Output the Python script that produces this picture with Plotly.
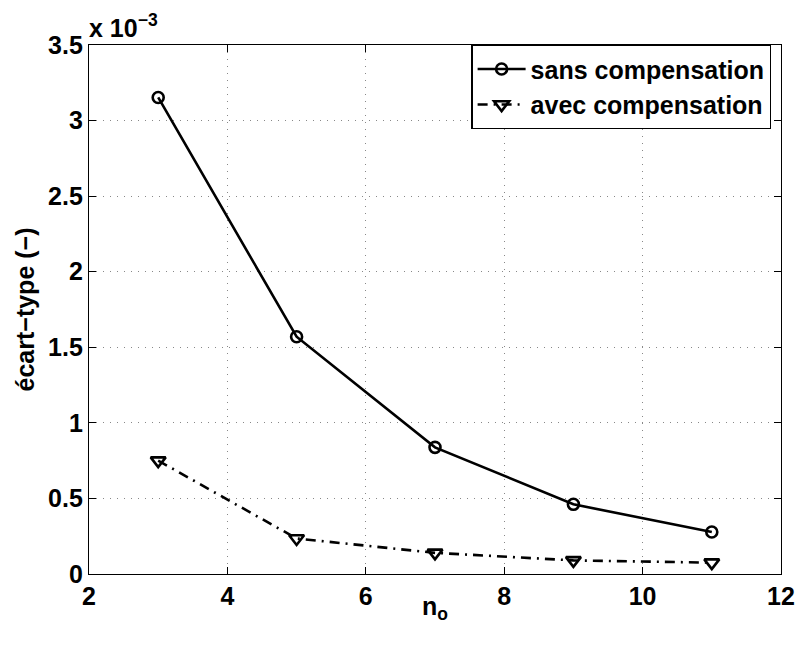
import plotly.graph_objects as go

n_o = [3, 5, 7, 9, 11]
sans_comp = [3.153, 1.570, 0.838, 0.461, 0.278]
avec_comp = [0.750, 0.235, 0.140, 0.090, 0.075]

x_ticks = [2, 4, 6, 8, 10, 12]
y_ticks = [0, 0.5, 1, 1.5, 2, 2.5, 3, 3.5]
y_ticktext = ["0", "0.5", "1", "1.5", "2", "2.5", "3", "3.5"]

FONT = "Liberation Sans, Arial, sans-serif"

fig = go.Figure()
fig.add_trace(go.Scatter(
    x=n_o, y=sans_comp, mode="lines+markers", name="sans compensation",
    line=dict(color="black", width=2.6),
    marker=dict(symbol="circle-open", size=11, color="black", line=dict(width=2.6)),
))
fig.add_trace(go.Scatter(
    x=n_o, y=avec_comp, mode="lines+markers", name="avec compensation",
    line=dict(color="black", width=2.6, dash="10px,6px,2px,6px"),
    marker=dict(symbol="triangle-down-open", size=13, color="black", line=dict(width=2.6)),
))

axis_common = dict(
    showline=True, linecolor="black", linewidth=1.3, mirror="ticks",
    ticks="inside", ticklen=7, tickwidth=1, tickcolor="black",
    showgrid=True, gridcolor="#888888", gridwidth=1, griddash="1px,6px",
    zeroline=False,
    tickfont=dict(family=FONT, size=25, color="black", weight="bold"),
)

fig.update_xaxes(range=[2, 12], tickvals=x_ticks, ticktext=[str(v) for v in x_ticks],
                 **axis_common)
fig.update_yaxes(range=[0, 3.5], tickvals=y_ticks, ticktext=y_ticktext,
                 title=dict(text="<b>écart−type (−)</b>", font=dict(family=FONT, size=25, color="black"),
                            standoff=6),
                 **axis_common)

fig.add_annotation(xref="paper", yref="paper", x=0.5, y=0, xanchor="center", yanchor="top",
                   text="<b>n<sub>o</sub></b>", showarrow=False, yshift=-16,
                   font=dict(family=FONT, size=25, color="black"))

fig.add_annotation(xref="paper", yref="paper", x=0, y=1, xanchor="left", yanchor="bottom",
                   text="<b>x 10<sup>−3</sup></b>", showarrow=False, xshift=-2, yshift=1,
                   font=dict(family=FONT, size=25, color="black"))

fig.update_layout(
    width=807, height=650,
    margin=dict(l=89, r=14, t=45, b=76),
    paper_bgcolor="white", plot_bgcolor="white",
    showlegend=True,
    legend=dict(x=0.986, y=1.0, xanchor="right", yanchor="top",
                bgcolor="white", bordercolor="black", borderwidth=1.3,
                font=dict(family=FONT, size=25, color="black", weight="bold"),
                itemwidth=48, tracegroupgap=0),
)

fig.write_html("out.html")
